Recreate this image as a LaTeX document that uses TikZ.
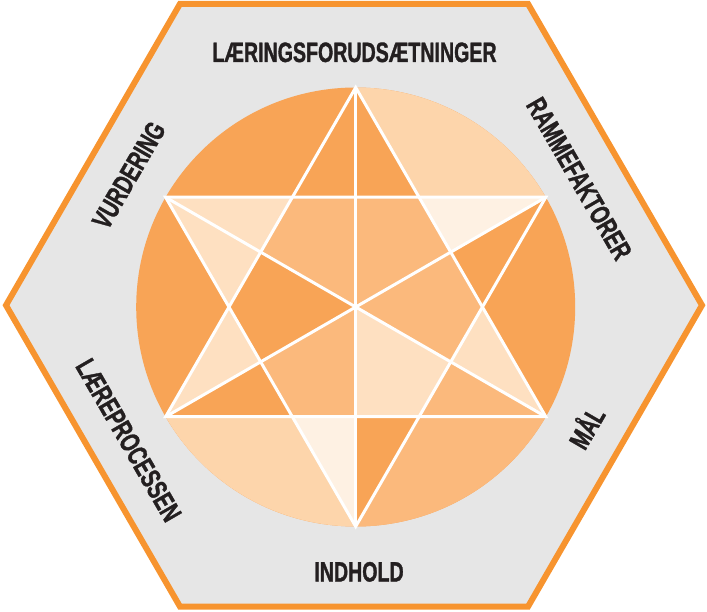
\documentclass[tikz,border=0pt]{standalone}
\usepackage{fontspec}
\newfontfamily\labfont[FakeStretch=0.70,FakeBold=1.2]{Liberation Sans Bold}
\definecolor{hexgray}{HTML}{E6E6E6}
\definecolor{hexorange}{HTML}{F7942F}
\definecolor{cdark}{HTML}{F8A456}
\definecolor{cmed}{HTML}{FBB97C}
\definecolor{cpeach}{HTML}{FDD5AB}
\definecolor{clight}{HTML}{FEE0C1}
\definecolor{cvlight}{HTML}{FEF1E3}
\definecolor{labcol}{HTML}{231F20}
\def\starR{219.5}
\def\hexR{126.73}
\def\midR{109.75}
\begin{document}
\begin{tikzpicture}[x=1pt,y=1pt,
  lab/.style={font=\labfont\fontsize{28}{28}\selectfont, text=labcol, inner sep=0pt, text height=20pt, text depth=0pt},
  starline/.style={draw=white, line width=3pt, line join=miter},
  hexframe/.style={draw=hexorange, fill=hexgray, line width=6pt, line join=miter}]
\useasboundingbox (0,0) rectangle (707,611);
% hexagon frame
\begin{scope}[shift={(354,305.75)}]
  \draw[hexframe] (0:348pt) -- (60:348pt) -- (120:348pt) -- (180:348pt) -- (240:348pt) -- (300:348pt) -- cycle;
\end{scope}
% star in circle
\begin{scope}[shift={(355.7,304)}]
  \coordinate (O) at (0,0);
  \foreach \a in {30,90,150,210,270,330} {
    \coordinate (V\a) at (\a:\starR pt);
    \coordinate (M\a) at (\a:\midR pt);
  }
  \foreach \a in {0,60,120,180,240,300} {
    \coordinate (H\a) at (\a:\hexR pt);
  }
  \fill[cdark] (O) circle[radius=\starR pt];
  \fill[cpeach] (O) -- (V90) arc[start angle=90, end angle=30, radius=\starR pt] -- cycle;
  \fill[cpeach] (O) -- (V270) arc[start angle=270, end angle=210, radius=\starR pt] -- cycle;
  \fill[cmed] (O) -- (V330) arc[start angle=330, end angle=270, radius=\starR pt] -- cycle;
  % tips
  \fill[cdark] (V90) -- (H120) -- (M90) -- cycle;
  \fill[cdark] (V90) -- (H60) -- (M90) -- cycle;
  \fill[cvlight] (V30) -- (H60) -- (M30) -- cycle;
  \fill[cdark] (V30) -- (H0) -- (M30) -- cycle;
  \fill[clight] (V330) -- (H0) -- (M330) -- cycle;
  \fill[cmed] (V330) -- (H300) -- (M330) -- cycle;
  \fill[cvlight] (V270) -- (H240) -- (M270) -- cycle;
  \fill[cdark] (V270) -- (H300) -- (M270) -- cycle;
  \fill[clight] (V210) -- (H180) -- (M210) -- cycle;
  \fill[cdark] (V210) -- (H240) -- (M210) -- cycle;
  \fill[clight] (V150) -- (H120) -- (M150) -- cycle;
  \fill[clight] (V150) -- (H180) -- (M150) -- cycle;
  % kites
  \fill[cmed] (O) -- (M330) -- (H0) -- (M30) -- cycle;
  \fill[cmed] (O) -- (M30) -- (H60) -- (M90) -- cycle;
  \fill[cmed] (O) -- (M90) -- (H120) -- (M150) -- cycle;
  \fill[cdark] (O) -- (M150) -- (H180) -- (M210) -- cycle;
  \fill[cmed] (O) -- (M210) -- (H240) -- (M270) -- cycle;
  \fill[clight] (O) -- (M270) -- (H300) -- (M330) -- cycle;
  % white lines
  \draw[starline] (V90) -- (V330) -- (V210) -- cycle;
  \draw[starline] (V270) -- (V30) -- (V150) -- cycle;
  \draw[starline] (V90) -- (V270);
  \draw[starline] (V30) -- (V210);
  \draw[starline] (V150) -- (V330);
\end{scope}
% labels
\node[lab] (l1) at (354.5,559) {LÆRINGSFORUDSÆTNINGER};
\node[lab] (l2) at (359,39.5) {INDHOLD};
\node[lab, rotate=60] (l3) at (128.5,436) {VURDERING};
\node[lab, rotate=-60] (l4) at (579.5,432.5) {RAMMEFAKTORER};
\node[lab, rotate=60] (l5) at (587,183) {MÅL};
\node[lab, rotate=-60] (l6) at (129,171) {LÆREPROCESSEN};
\end{tikzpicture}
\end{document}
